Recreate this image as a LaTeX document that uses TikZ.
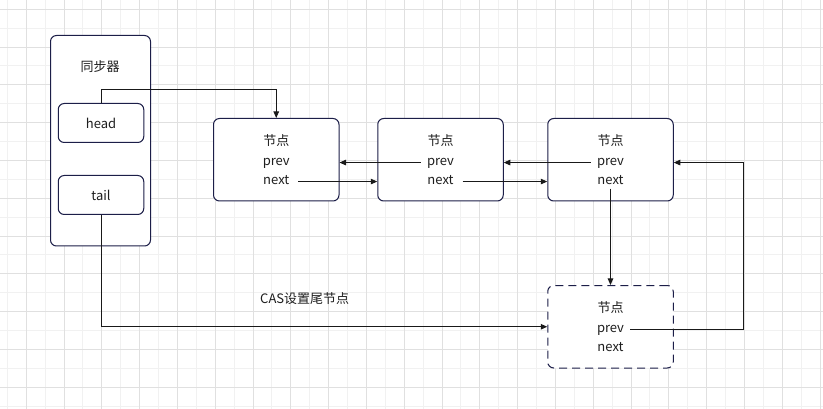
\documentclass[tikz,border=0pt]{standalone}
\usepackage{fontspec}
\setmainfont{Noto Sans CJK SC}
\usetikzlibrary{arrows.meta}
\definecolor{boxc}{RGB}{28,30,72}
\definecolor{gridA}{RGB}{241,241,241}
\definecolor{gridB}{RGB}{224,224,224}
\definecolor{txt}{RGB}{30,30,30}
\tikzset{
  box/.style={draw=boxc, line width=1pt, rounded corners=6pt, inner sep=0pt, fill=white},
  lbl/.style={inner sep=1pt, text=txt, font=\fontsize{13pt}{15pt}\selectfont, text height=9pt, text depth=3pt},
  conn/.style={draw=black!90, line width=1pt, -{Triangle[length=6.5pt,width=5.5pt]}},
  nodebox/.style={box, minimum width=125.5pt, minimum height=82.5pt},
}
\begin{document}
\begin{tikzpicture}[x=1pt,y=-1pt]
\useasboundingbox (0,0) rectangle (823,409);
\fill[white] (0,0) rectangle (823,409);
% grid
\foreach \k in {0,...,43}{\ifodd\k\else \draw[gridA,line width=1pt] ({7.3+\k*18.9},0) -- ({7.3+\k*18.9},409);\fi}
\foreach \k in {0,...,21}{\ifodd\k \draw[gridA,line width=1pt] (0,{9.3+\k*18.9}) -- (823,{9.3+\k*18.9});\fi}
\foreach \k in {0,...,43}{\ifodd\k \draw[gridB,line width=1pt] ({7.3+\k*18.9},0) -- ({7.3+\k*18.9},409);\fi}
\foreach \k in {0,...,21}{\ifodd\k\else \draw[gridB,line width=1pt] (0,{9.3+\k*18.9}) -- (823,{9.3+\k*18.9});\fi}

% synchronizer
\node[box, minimum width=100pt, minimum height=210.5pt] (sync) at (100.5,140.75) {};
\node[lbl] (synct) at (100,68.5) {同步器};
\node[box, lbl, text height=12.5pt, text depth=0.5pt, minimum width=85.5pt, minimum height=39pt] (head) at (101,123) {head};
\node[box, lbl, text height=12.5pt, text depth=0.5pt, minimum width=85.5pt, minimum height=39pt] (tail) at (101,195) {tail};

% nodes
\node[nodebox] (n1) at (276.25,159.75) {};
\node[nodebox] (n2) at (440.5,159.75) {};
\node[nodebox] (n3) at (610.5,159.75) {};
\node[nodebox, dash pattern=on 8pt off 5pt] (n4) at (610.5,326.75) {};

\foreach \n in {n1,n2,n3,n4}{
  \node[lbl] (\n t) at ([yshift=16.8pt]\n.center) {节点};
  \node[lbl] (\n p) at ([yshift=-2.8pt]\n.center) {prev};
  \node[lbl] (\n n) at ([yshift=-21.8pt]\n.center) {next};
}

\node[lbl] (cas) at (304.7,300.5) {CAS设置尾节点};

% connectors
\draw[conn] (head.north) -- ++(0,-13) -| (n1.north);
\draw[conn] ([xshift=-5pt]n2p.west) -- (n2p.west -| n1.east);
\draw[conn] ([xshift=8pt]n1n.east) -- (n1n.east -| n2.west);
\draw[conn] ([xshift=-5pt]n3p.west) -- (n3p.west -| n2.east);
\draw[conn] ([xshift=8pt]n2n.east) -- (n2n.east -| n3.west);
\draw[conn] (n3n.south) -- (n3n.south |- n4.north);
\coordinate (rt) at (743,0);
\draw[conn] ([xshift=5pt]n4p.east) -| (rt |- n3p) -- (n3p -| n3.east);
\draw[conn] (tail.south) |- (n4.west);
\end{tikzpicture}
\end{document}
